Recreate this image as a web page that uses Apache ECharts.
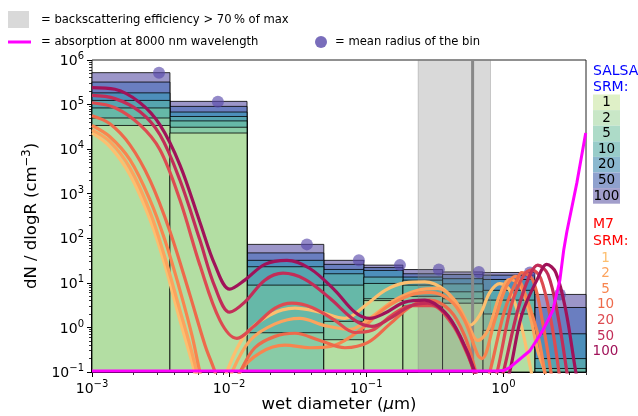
<!DOCTYPE html>
<html>
<head>
<meta charset="utf-8">
<script src="https://cdn.jsdelivr.net/npm/echarts@6/dist/echarts.min.js"></script>
<style>
  html, body { margin: 0; padding: 0; background: #fff; }
  #chart { width: 638px; height: 416px; }
</style>
</head>
<body>
<div id="chart"></div>
<script>
// ---- data ----
const srmNames = ['1', '2', '5', '10', '20', '50', '100'];

// SALSA size bins (wet diameter, um) and dN/dlogR per SRM level
const binEdges = [0.001, 0.0037, 0.0135, 0.049, 0.096, 0.185, 0.36, 0.71, 1.69, 5];
const salsa1   = [3.4e4, 2.3e4, 0.05, 0.53, 4.0, 3.0, 3.5, 0.86, 0.02];
const salsa2   = [5.0e4, 3.1e4, 0.76, 1.37, 4.4, 5.0, 4.4, 2.0, 0.05];
const salsa5   = [8.4e4, 4.3e4, 8.9, 8.9, 9.7, 8.9, 6.3, 4.1, 0.12];
const salsa10  = [1.24e5, 5.4e4, 23, 16, 13.5, 11.5, 9.5, 6.8, 0.2];
const salsa20  = [1.83e5, 6.8e4, 32, 20, 19, 13.5, 12.4, 11.9, 0.72];
const salsa50  = [3.2e5, 9.1e4, 47, 26, 22, 16, 15.4, 14.9, 2.8];
const salsa100 = [5.2e5, 1.18e5, 73, 32, 25, 19.9, 17.6, 17.1, 5.5];

// mean radius of each bin
const dotDiam = [0.00308, 0.00828, 0.0369, 0.0883, 0.176, 0.338, 0.662, 1.56, 2.58];
const dotConc = [5.15e5, 1.16e5, 73, 32, 25, 19.9, 17.6, 17.1, 5.5];

// M7 modal distributions [diameter, dN/dlogR]
const m7_1 = [[0.001, 2.3e4], [0.00135, 1.13e4], [0.00189, 2650], [0.00265, 260], [0.0034, 25], [0.00438, 1.44],
  [0.00518, 0.24], [0.0056, 0.1], [0.0063, 0.02], [0.0083, 0.02], [0.0096, 0.1], [0.013, 0.66], [0.0198, 1.9],
  [0.0302, 2.7], [0.0459, 2.2], [0.0698, 1.6], [0.0983, 3.1], [0.137, 6.8], [0.191, 10], [0.267, 10.5],
  [0.374, 6.8], [0.481, 2.4], [0.569, 1.11], [0.673, 1.9], [0.796, 6.1], [0.941, 9.6], [1.11, 6.8],
  [1.32, 1.44], [1.56, 0.14], [1.67, 0.05]];
const m7_2 = [[0.001, 2.7e4], [0.00135, 1.47e4], [0.00189, 3800], [0.00265, 390], [0.0034, 37], [0.00438, 2.4],
  [0.00518, 0.4], [0.0058, 0.1], [0.0066, 0.02], [0.0089, 0.02], [0.0105, 0.1], [0.0142, 0.51], [0.0216, 1.2],
  [0.0328, 1.6], [0.05, 1.1], [0.0759, 0.9], [0.106, 1.6], [0.161, 4.1], [0.238, 6.8], [0.333, 7.5],
  [0.44, 4.1], [0.55, 1.2], [0.65, 0.51], [0.77, 0.86], [0.94, 5.3], [1.11, 11.9], [1.32, 9.0],
  [1.56, 1.9], [1.78, 0.3], [2.0, 0.1], [2.16, 0.02]];
const m7_5 = [[0.001, 3.4e4], [0.00135, 1.9e4], [0.00189, 5800], [0.00265, 720], [0.0034, 91], [0.00438, 6.8],
  [0.00536, 0.66], [0.00612, 0.1], [0.007, 0.02], [0.00977, 0.02], [0.012, 0.1], [0.0168, 0.27], [0.0255, 0.4],
  [0.0388, 0.35], [0.059, 0.4], [0.0898, 0.86], [0.137, 2.7], [0.208, 5.3], [0.291, 6.1], [0.407, 4.1],
  [0.52, 1.44], [0.65, 0.24], [0.697, 0.2], [0.865, 1.44], [1.06, 8.9], [1.23, 14], [1.36, 8.9],
  [1.75, 0.86], [2.0, 0.1], [2.16, 0.02]];
const m7_10 = [[0.001, 5.6e4], [0.00135, 3.7e4], [0.00189, 1.25e4], [0.00265, 2000], [0.00371, 140], [0.00518, 5.3],
  [0.00667, 0.4], [0.00789, 0.1], [0.0093, 0.02], [0.012, 0.1], [0.0154, 0.35], [0.0216, 0.63], [0.0302, 0.74],
  [0.0459, 0.51], [0.0698, 0.35], [0.103, 0.46], [0.149, 1.2], [0.215, 3.1], [0.291, 4.1], [0.407, 2.4],
  [0.52, 0.66], [0.63, 0.1], [0.7, 0.03], [0.796, 0.1], [1.02, 2.4], [1.27, 12.7], [1.36, 17], [1.64, 11.5],
  [1.94, 1.2], [2.22, 0.1], [2.4, 0.02]];
const m7_20 = [[0.001, 1.1e5], [0.00147, 8.5e4], [0.00224, 3.5e4], [0.00313, 9700], [0.00438, 720], [0.00612, 25],
  [0.00857, 1.44], [0.0114, 0.57], [0.0154, 1.11], [0.0216, 2.7], [0.0287, 3.5], [0.0402, 2.8], [0.059, 1.44],
  [0.0826, 0.77], [0.11, 0.86], [0.154, 1.9], [0.215, 3.1], [0.3, 3.1], [0.421, 1.2], [0.532, 0.3],
  [0.61, 0.1], [0.67, 0.02], [0.769, 0.02], [0.9, 0.1], [1.14, 3.1], [1.41, 15], [1.61, 19.5], [1.87, 12.7],
  [2.22, 1.44], [2.54, 0.1], [2.7, 0.02]];
const m7_50 = [[0.001, 1.6e5], [0.00147, 1.36e5], [0.00224, 6.9e4], [0.00313, 2.1e4], [0.00438, 2000], [0.00612, 91],
  [0.00789, 8.0], [0.0101, 2.2], [0.013, 3.7], [0.0182, 11.5], [0.0247, 16.5], [0.0357, 12], [0.0543, 4.5],
  [0.0826, 1.44], [0.11, 1.06], [0.149, 1.6], [0.208, 3.0], [0.281, 3.5], [0.387, 1.9], [0.498, 0.51],
  [0.61, 0.1], [0.67, 0.02], [0.865, 0.02], [1.0, 0.1], [1.27, 2.4], [1.56, 15], [1.78, 25], [2.11, 15.6],
  [2.49, 1.9], [2.9, 0.1], [3.1, 0.02]];
const m7_100 = [[0.001, 2.4e5], [0.00147, 2.2e5], [0.00224, 1.1e5], [0.00313, 3.5e4], [0.00438, 4400], [0.00612, 230],
  [0.00789, 25], [0.0101, 7.2], [0.013, 11.5], [0.0182, 26], [0.0264, 32], [0.0388, 21], [0.059, 6.8],
  [0.0826, 2.2], [0.106, 1.6], [0.137, 2.1], [0.191, 3.7], [0.267, 4.1], [0.374, 2.2], [0.481, 0.66],
  [0.62, 0.1], [0.7, 0.02], [0.94, 0.02], [1.11, 0.1], [1.36, 1.9], [1.78, 12.7], [2.07, 26], [2.41, 17],
  [2.85, 2.4], [3.37, 0.1], [3.73, 0.02]];

// absorption at 8000 nm (scaled onto the same axis)
const absDiam = [0.001, 0.895, 1.0, 1.11, 1.56, 1.94, 2.29, 2.58, 2.75, 2.9, 3.43, 3.98];
const absVal  = [0.105, 0.105, 0.108, 0.125, 0.3, 0.86, 2.4, 11.5, 54, 140, 1750, 2.3e4];

// backscattering efficiency > 70 % of max, and its peak
const backscatBand = [0.239, 0.805];
const backscatPeak = 0.596;

// ticks
const xMajor = [0.001, 0.01, 0.1, 1];
const xMinor = [0.002, 0.003, 0.004, 0.005, 0.006, 0.007, 0.008, 0.009, 0.02, 0.03, 0.04, 0.05, 0.06, 0.07,
  0.08, 0.09, 0.2, 0.3, 0.4, 0.5, 0.6, 0.7, 0.8, 0.9, 2, 3, 4];
const yMajor = [0.1, 1, 10, 100, 1e3, 1e4, 1e5, 1e6];
const yMinor = [];
for (const d of [0.1, 1, 10, 100, 1e3, 1e4, 1e5]) {
  for (let k = 2; k <= 9; k++) yMinor.push(k * d);
}

// ---- styling ----
const FONT = 'DejaVu Sans';
const salsaColors = ['#b3dea3', '#88cba6', '#66b8a8', '#56a5b0', '#4d8fbb', '#6a7ec0', '#9c96c9'];
const salsaKeyColors = ['#dff0c7', '#c9e7c7', '#addbc8', '#98ccc9', '#8bb8cf', '#8fa1ce', '#a29ecb'];
const m7Colors = ['#fdbf6f', '#fca35e', '#f8854f', '#ee6a4b', '#dd4b51', '#c22d58', '#a01259'];
const salsaData = [salsa1, salsa2, salsa5, salsa10, salsa20, salsa50, salsa100];
const m7Data = [m7_1, m7_2, m7_5, m7_10, m7_20, m7_50, m7_100];

const chart = echarts.init(document.getElementById('chart'));

function powLabel(v) {
  const e = Math.round(Math.log10(v));
  return '{b|10}{s|' + (e < 0 ? '\u2212' + (-e) : e) + '}';
}
const powRich = {
  b: { fontSize: 14, fontFamily: FONT, color: '#000', verticalAlign: 'bottom' },
  s: { fontSize: 10, fontFamily: FONT, color: '#000', verticalAlign: 'bottom', padding: [0, 0, 7, 0] }
};

function binRect(color) {
  return function (params, api) {
    const top = api.coord([api.value(0), api.value(2)]);
    const bot = api.coord([api.value(1), 0.001]);
    const cs = params.coordSys;
    const shape = echarts.graphic.clipRectByRect(
      { x: top[0], y: top[1], width: bot[0] - top[0], height: bot[1] - top[1] },
      { x: cs.x, y: cs.y, width: cs.width, height: cs.height });
    return shape && {
      type: 'rect', shape: shape,
      style: { fill: color, stroke: 'rgba(0,0,0,0.8)', lineWidth: 1 }
    };
  };
}

const series = [];
// draw largest SRM first so smaller ones stack on top
for (let i = srmNames.length - 1; i >= 0; i--) {
  series.push({
    name: 'SALSA ' + srmNames[i],
    type: 'custom',
    z: 1,
    renderItem: binRect(salsaColors[i]),
    encode: { x: [0, 1], y: 2 },
    data: salsaData[i].map((v, j) => [binEdges[j], binEdges[j + 1], v]),
    silent: true
  });
}

series.push({
  name: 'backscattering',
  type: 'custom',
  z: 2,
  silent: true,
  encode: { x: [0, 1] },
  data: [[backscatBand[0], backscatBand[1], backscatPeak]],
  renderItem: function (params, api) {
    const a = api.coord([api.value(0), 1e6]);
    const b = api.coord([api.value(1), 0.1]);
    const p = api.coord([api.value(2), 1e6]);
    return {
      type: 'group',
      children: [
        { type: 'rect', shape: { x: a[0], y: a[1], width: b[0] - a[0], height: b[1] - a[1] },
          style: { fill: 'rgba(128,128,128,0.3)', stroke: 'rgba(128,128,128,0.35)', lineWidth: 1 } },
        { type: 'line', shape: { x1: p[0], y1: a[1], x2: p[0], y2: b[1] },
          style: { stroke: '#888888', lineWidth: 3 } }
      ]
    };
  }
});

series.push({
  name: 'mean radius',
  type: 'scatter',
  z: 3,
  symbolSize: 12,
  itemStyle: { color: 'rgba(88,72,170,0.8)' },
  data: dotDiam.map((d, i) => [d, dotConc[i]])
});

m7Data.forEach((d, i) => {
  series.push({
    name: 'M7 ' + srmNames[i],
    type: 'line',
    z: 4,
    smooth: 0.35,
    showSymbol: false,
    clip: true,
    lineStyle: { color: m7Colors[i], width: 3.2 },
    data: d
  });
});

series.push({
  name: 'absorption',
  type: 'line',
  z: 5,
  showSymbol: false,
  clip: true,
  lineStyle: { color: '#ff00ff', width: 3 },
  data: absDiam.map((d, i) => [d, absVal[i]])
});

// ---- legends drawn as graphics ----
const txt = (x, y, text, color, size, align) => ({
  type: 'text', x: x, y: y, silent: true,
  style: { text: text, fill: color || '#000', fontSize: size || 11.6, fontFamily: FONT,
    align: align || 'left', textAlign: align || 'left', verticalAlign: 'middle', textVerticalAlign: 'middle' }
});
const graphics = [
  { type: 'rect', shape: { x: 8, y: 11, width: 21, height: 17 }, style: { fill: '#d9d9d9' } },
  txt(41, 20, '= backscattering efficiency > 70\u2009% of max'),
  { type: 'line', shape: { x1: 8, y1: 42, x2: 31, y2: 42 }, style: { stroke: '#ff00ff', lineWidth: 3 } },
  txt(41, 42, '= absorption at 8000 nm wavelength'),
  { type: 'circle', shape: { cx: 321, cy: 42, r: 6 }, style: { fill: 'rgba(88,72,170,0.8)' } },
  txt(335, 42, '= mean radius of the bin'),
  txt(593, 71, 'SALSA', '#0000ff', 14),
  txt(593, 87, 'SRM:', '#0000ff', 14),
  txt(593, 224, 'M7', '#ff0000', 14),
  txt(593, 241, 'SRM:', '#ff0000', 14)
];
srmNames.forEach((n, i) => {
  const top = 94.5 + i * 15.6;
  graphics.push({ type: 'rect', shape: { x: 593, y: top, width: 27, height: 15.6 },
    style: { fill: salsaKeyColors[i] } });
  graphics.push(txt(606.5, top + 8, n, '#000', 13.5, 'center'));
  graphics.push(txt(605.5, 258 + i * 15.6, n, m7Colors[i], 13.5, 'center'));
});

chart.setOption({
  animation: false,
  backgroundColor: '#ffffff',
  grid: { left: 92, right: 52, top: 60, bottom: 44, outerBoundsMode: 'none', containLabel: false,
    show: true, borderColor: '#222', borderWidth: 1, backgroundColor: 'transparent' },
  xAxis: [
    {
      type: 'log', logBase: 10, min: 0.001, max: 4, position: 'bottom',
      axisLine: { show: false },
      axisTick: { show: true, length: 5, customValues: xMajor, lineStyle: { color: '#000', width: 1 } },
      axisLabel: { customValues: xMajor, formatter: powLabel, rich: powRich, margin: 7 },
      splitLine: { show: false },
      name: '{n|wet diameter (}{i|\u03bc}{n|m)}',
      nameLocation: 'middle', nameGap: 24, nameMoveOverlap: false,
      nameTextStyle: { rich: {
        n: { fontSize: 16.5, fontFamily: FONT, color: '#000' },
        i: { fontSize: 16.5, fontFamily: FONT, color: '#000', fontStyle: 'italic' } } }
    },
    {
      type: 'log', logBase: 10, min: 0.001, max: 4, position: 'bottom',
      axisLine: { show: false },
      axisTick: { show: true, length: 3, customValues: xMinor, lineStyle: { color: '#000', width: 0.8 } },
      axisLabel: { show: false },
      splitLine: { show: false }
    }
  ],
  yAxis: [
    {
      type: 'log', logBase: 10, min: 0.1, max: 1e6, position: 'left',
      axisLine: { show: false },
      axisTick: { show: true, length: 5, customValues: yMajor, lineStyle: { color: '#000', width: 1 } },
      axisLabel: { customValues: yMajor, formatter: powLabel, rich: powRich, margin: 8 },
      splitLine: { show: false },
      name: '{n|dN / dlogR (cm}{s|\u22123}{n|)}',
      nameLocation: 'middle', nameRotate: 90, nameGap: 50,
      nameTextStyle: { rich: {
        n: { fontSize: 16.5, fontFamily: FONT, color: '#000', verticalAlign: 'bottom' },
        s: { fontSize: 11.5, fontFamily: FONT, color: '#000', verticalAlign: 'bottom', padding: [0, 0, 8, 0] } } }
    },
    {
      type: 'log', logBase: 10, min: 0.1, max: 1e6, position: 'left',
      axisLine: { show: false },
      axisTick: { show: true, length: 3, customValues: yMinor, lineStyle: { color: '#000', width: 0.8 } },
      axisLabel: { show: false },
      splitLine: { show: false }
    }
  ],
  graphic: { elements: graphics },
  series: series
});
</script>
</body>
</html>
